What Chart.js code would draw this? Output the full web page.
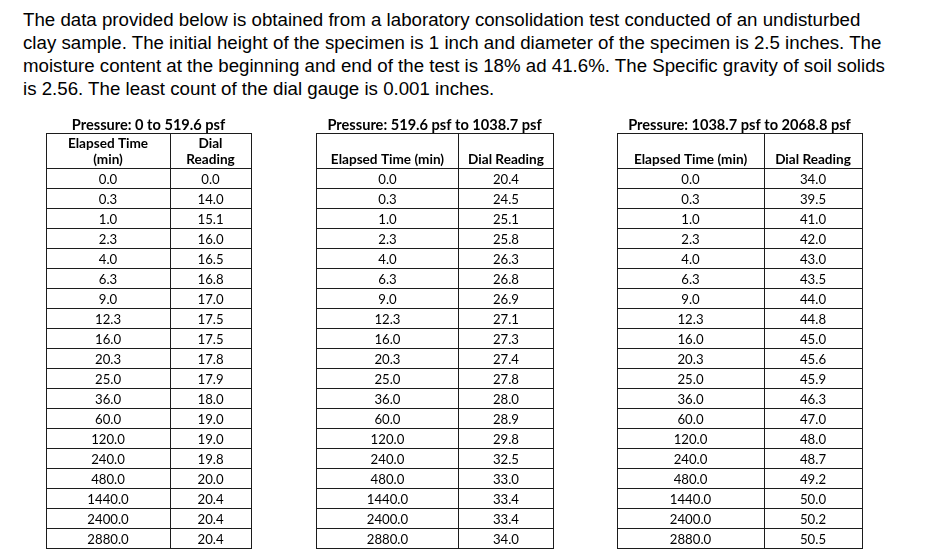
<!DOCTYPE html>
<html>
<head>
<meta charset="utf-8">
<script src="https://cdn.jsdelivr.net/npm/chart.js@4.4.1/dist/chart.umd.min.js"></script>
<style>
  html, body { margin: 0; padding: 0; background: #fff; }
  body { width: 939px; height: 558px; position: relative; overflow: hidden; }
  #intro { position: absolute; left: 23px; top: 8px; font-family: 'Liberation Sans', Arial, sans-serif;
           font-size: 18.7px; line-height: 23px; color: #000; white-space: nowrap; }
  canvas { position: absolute; }
</style>
</head>
<body>
<div id="intro">
  <div>The data provided below is obtained from a laboratory consolidation test conducted of an undisturbed</div>
  <div>clay sample. The initial height of the specimen is 1 inch and diameter of the specimen is 2.5 inches. The</div>
  <div>moisture content at the beginning and end of the test is 18% ad 41.6%. The Specific gravity of soil solids</div>
  <div>is 2.56. The least count of the dial gauge is 0.001 inches.</div>
</div>
<canvas id="t1" width="217" height="442" style="left:40px;top:110px"></canvas>
<canvas id="t2" width="249" height="442" style="left:310px;top:110px"></canvas>
<canvas id="t3" width="257" height="442" style="left:611px;top:110px"></canvas>
<script>
// ---- data ----
const elapsedTime = [0.0, 0.3, 1.0, 2.3, 4.0, 6.3, 9.0, 12.3, 16.0, 20.3, 25.0, 36.0, 60.0, 120.0, 240.0, 480.0, 1440.0, 2400.0, 2880.0];
const dialReading1 = [0.0, 14.0, 15.1, 16.0, 16.5, 16.8, 17.0, 17.5, 17.5, 17.8, 17.9, 18.0, 19.0, 19.0, 19.8, 20.0, 20.4, 20.4, 20.4];
const dialReading2 = [20.4, 24.5, 25.1, 25.8, 26.3, 26.8, 26.9, 27.1, 27.3, 27.4, 27.8, 28.0, 28.9, 29.8, 32.5, 33.0, 33.4, 33.4, 34.0];
const dialReading3 = [34.0, 39.5, 41.0, 42.0, 43.0, 43.5, 44.0, 44.8, 45.0, 45.6, 45.9, 46.3, 47.0, 48.0, 48.7, 49.2, 50.0, 50.2, 50.5];
const tableTitles = ['Pressure: 0 to 519.6 psf', 'Pressure: 519.6 psf to 1038.7 psf', 'Pressure: 1038.7 psf to 2068.8 psf'];
const headersWrapped = [['Elapsed Time', '(min)'], ['Dial', 'Reading']];
const headersSingle = [['Elapsed Time (min)'], ['Dial Reading']];

// ---- layout / style ----
const LINE = '#1c1c1c';
const FONT = 'Lato, "Open Sans", sans-serif';
const HEADER_UNITS = 1.75;

const cellText = {
  id: 'cellText',
  afterDatasetsDraw(chart, args, opts) {
    const ctx = chart.ctx;
    const ys = chart.scales.y;
    ctx.save();
    ctx.fillStyle = '#000';
    ctx.textAlign = 'center';
    ctx.textBaseline = 'alphabetic';
    chart.data.datasets.forEach((ds, di) => {
      const meta = chart.getDatasetMeta(di);
      ctx.font = '13.2px ' + FONT;
      meta.data.forEach((pt, i) => {
        ctx.fillText(ds.cellLabels[i], pt.x, pt.y + 6);
      });
      ctx.font = 'bold 13.6px ' + FONT;
      const hdr = opts.headers[di];
      const yb = ys.getPixelForValue(0) - 4;
      hdr.forEach((line, li) => {
        ctx.fillText(line, meta.data[0].x, yb - (hdr.length - 1 - li) * 16);
      });
    });
    ctx.restore();
  }
};

function makeTable(id, title, headers, times, readings, split) {
  const rows = times.length;
  const yTicks = [-HEADER_UNITS];
  for (let i = 0; i <= rows; i++) yTicks.push(i);
  const c0 = split / 2, c1 = (1 + split) / 2;
  return new Chart(document.getElementById(id), {
    type: 'scatter',
    data: {
      datasets: [
        { data: times.map((t, i) => ({ x: c0, y: i + 0.5 })), cellLabels: times.map(t => t.toFixed(1)),
          pointRadius: 0, pointHoverRadius: 0 },
        { data: readings.map((r, i) => ({ x: c1, y: i + 0.5 })), cellLabels: readings.map(r => r.toFixed(1)),
          pointRadius: 0, pointHoverRadius: 0 }
      ]
    },
    options: {
      responsive: false,
      animation: false,
      devicePixelRatio: 1,
      events: [],
      layout: { padding: { left: 6, right: 6, top: 0, bottom: 4 }, autoPadding: false },
      plugins: {
        legend: { display: false },
        tooltip: { enabled: false },
        title: {
          display: true, text: title, color: '#000',
          font: { family: FONT, weight: 'bold', size: 14.6, lineHeight: '16px' },
          padding: { top: 7, bottom: 0 }
        },
        cellText: { headers: headers }
      },
      scales: {
        x: {
          type: 'linear', min: 0, max: 1,
          ticks: { display: false },
          grid: { drawTicks: false, color: LINE, lineWidth: 1 },
          border: { display: true, color: LINE, width: 1 },
          afterBuildTicks: s => { s.ticks = [0, split, 1].map(v => ({ value: v })); }
        },
        y: {
          type: 'linear', reverse: true, min: -HEADER_UNITS, max: rows,
          ticks: { display: false },
          grid: { drawTicks: false, color: LINE, lineWidth: 1 },
          border: { display: true, color: LINE, width: 1 },
          afterBuildTicks: s => { s.ticks = yTicks.map(v => ({ value: v })); }
        }
      }
    },
    plugins: [cellText]
  });
}

makeTable('t1', tableTitles[0], headersWrapped, elapsedTime, dialReading1, 0.605);
makeTable('t2', tableTitles[1], headersSingle, elapsedTime, dialReading2, 0.603);
makeTable('t3', tableTitles[2], headersSingle, elapsedTime, dialReading3, 0.6);
</script>
</body>
</html>
